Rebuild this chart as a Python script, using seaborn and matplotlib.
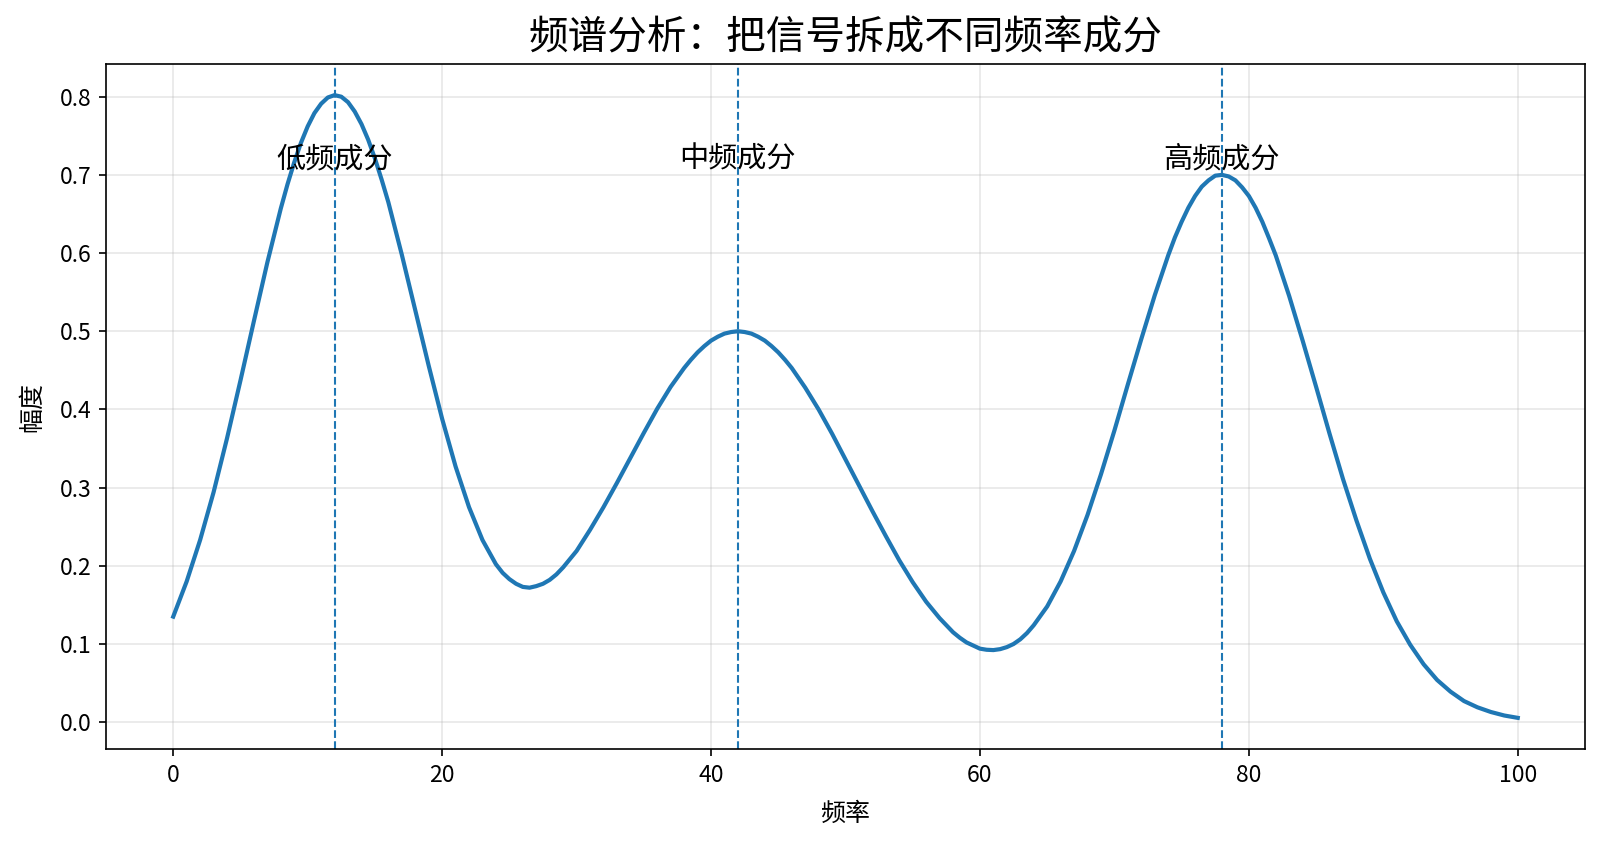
import matplotlib
matplotlib.use("Agg")
import matplotlib.pyplot as plt
import seaborn as sns
import pandas as pd

plt.rcParams['font.family'] = ['Noto Sans CJK SC', 'DejaVu Sans']
plt.rcParams['axes.unicode_minus'] = False

# Frequency samples and amplitude values
freq = [
    0, 1, 2, 3, 4, 5, 6, 7, 8, 8.5, 9, 9.5, 10, 10.5, 11, 11.5, 12, 12.5,
    13, 13.5, 14, 14.5, 15, 15.5, 16, 17, 18, 19, 20, 21, 22, 23, 24, 24.5,
    25, 25.5, 26, 26.5, 27, 27.5, 28, 28.5, 29, 30, 31, 32, 33, 34, 35, 36,
    37, 38, 38.5, 39, 39.5, 40, 40.5, 41, 41.5, 42, 42.5, 43, 43.5, 44, 44.5,
    45, 45.5, 46, 47, 48, 49, 50, 51, 52, 53, 54, 55, 56, 57, 58, 58.5, 59,
    59.5, 60, 60.5, 61, 61.5, 62, 62.5, 63, 63.5, 64, 65, 66, 67, 68, 69, 70,
    71, 72, 73, 74, 74.5, 75, 75.5, 76, 76.5, 77, 77.5, 78, 78.5, 79, 79.5,
    80, 80.5, 81, 81.5, 82, 83, 84, 85, 86, 87, 88, 89, 90, 91, 92, 93, 94,
    95, 96, 97, 98, 99, 100,
]
amplitude = [
    0.135, 0.180, 0.233, 0.294, 0.363, 0.437, 0.513, 0.588, 0.657, 0.688,
    0.716, 0.741, 0.762, 0.779, 0.791, 0.799, 0.802, 0.800, 0.793, 0.781,
    0.765, 0.745, 0.721, 0.694, 0.665, 0.598, 0.527, 0.456, 0.388, 0.327,
    0.275, 0.233, 0.202, 0.191, 0.183, 0.177, 0.173, 0.172, 0.174, 0.177,
    0.182, 0.189, 0.198, 0.219, 0.246, 0.275, 0.306, 0.338, 0.370, 0.401,
    0.429, 0.453, 0.4635, 0.473, 0.481, 0.488, 0.493, 0.497, 0.499, 0.500,
    0.499, 0.497, 0.493, 0.488, 0.481, 0.473, 0.4635, 0.453, 0.428, 0.400,
    0.369, 0.336, 0.303, 0.270, 0.238, 0.207, 0.179, 0.154, 0.133, 0.115,
    0.108, 0.102, 0.098, 0.094, 0.0926, 0.0922, 0.0934, 0.0960, 0.100, 0.106,
    0.114, 0.124, 0.148, 0.180, 0.219, 0.265, 0.317, 0.373, 0.432, 0.490,
    0.546, 0.597, 0.620, 0.640, 0.658, 0.673, 0.685, 0.693, 0.699, 0.700,
    0.698, 0.693, 0.684, 0.673, 0.658, 0.640, 0.619, 0.597, 0.545, 0.488,
    0.429, 0.369, 0.311, 0.258, 0.209, 0.166, 0.129, 0.099, 0.074, 0.054,
    0.039, 0.027, 0.019, 0.013, 0.0085, 0.0055,
]

# Component markers
component_freqs = [12, 42, 78]
component_labels = ["低频成分", "中频成分", "高频成分"]
label_y = 0.7

title = "频谱分析：把信号拆成不同频率成分"
xlabel = "频率"
ylabel = "幅度"

df = pd.DataFrame({"freq": freq, "amp": amplitude})

fig = plt.figure(figsize=(1602 / 150, 846 / 150), dpi=150)
ax = fig.add_axes([106 / 1602, 1 - 749 / 846, (1585 - 106) / 1602, (749 - 64) / 846])

sns.lineplot(data=df, x="freq", y="amp", ax=ax, color="#1f77b4", linewidth=2)

for f, lab in zip(component_freqs, component_labels):
    ax.axvline(f, color="#1f77b4", linestyle="--", linewidth=1)
    ax.text(f, label_y, lab, ha="center", va="bottom", fontsize=14)

ax.set_title(title, fontsize=19, pad=7)
ax.set_xlabel(xlabel, fontsize=12, labelpad=7)
ax.set_ylabel(ylabel, fontsize=12, labelpad=7)
ax.tick_params(labelsize=11)
ax.grid(True, alpha=0.3)

fig.savefig("out.png", dpi=150)
